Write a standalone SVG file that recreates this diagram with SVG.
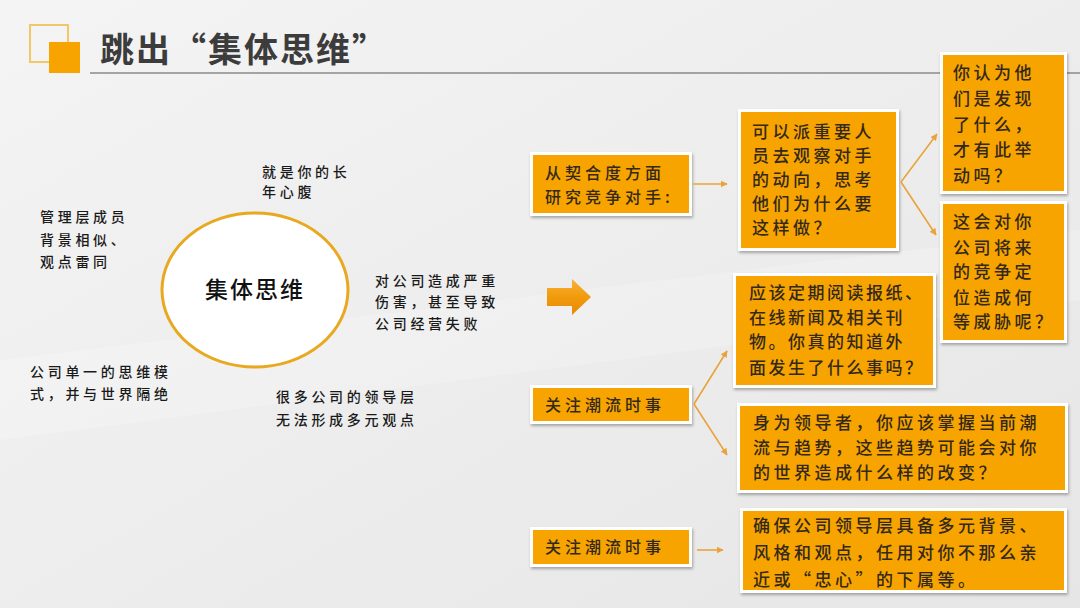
<svg xmlns="http://www.w3.org/2000/svg" width="1080" height="608" viewBox="0 0 1080 608">
<defs>
<linearGradient id="bg" x1="0" y1="0" x2="1" y2="1">
<stop offset="0" stop-color="#f4f4f4"/>
<stop offset="0.5" stop-color="#ededed"/>
<stop offset="1" stop-color="#e6e6e6"/>
</linearGradient>
<linearGradient id="arrowfill" x1="0" y1="0" x2="0" y2="1">
<stop offset="0" stop-color="#f7b23a"/>
<stop offset="0.5" stop-color="#f29a0c"/>
<stop offset="1" stop-color="#e58a05"/>
</linearGradient>
<filter id="sh" x="-10%" y="-10%" width="130%" height="130%">
<feDropShadow dx="1" dy="2" stdDeviation="1.8" flood-color="#000" flood-opacity="0.3"/>
</filter>
<marker id="ah" viewBox="0 0 10 10" refX="9" refY="5" markerWidth="7" markerHeight="7" orient="auto" markerUnits="userSpaceOnUse">
<path d="M0,0 L10,5 L0,10 Z" fill="#eaa33a"/>
</marker>
<style>
.box{fill:#f8a406;stroke:#ffffff;stroke-width:3;filter:url(#sh)}
.bt{font-family:"Noto Sans CJK SC","Noto Sans CJK JP",sans-serif;font-size:17px;font-weight:500;fill:#33291a;letter-spacing:3.5px}
.ft{font-family:"Noto Sans CJK SC","Noto Sans CJK JP",sans-serif;font-size:14px;font-weight:500;fill:#1a1a1a;letter-spacing:3.7px}
.con{stroke:#eaa33a;stroke-width:1.6;fill:none;marker-end:url(#ah)}
</style>
</defs>
<rect x="0" y="0" width="1080" height="608" fill="url(#bg)"/>
<path d="M0,360 L1080,230 L1080,300 L0,440 Z" fill="#ffffff" opacity="0.2"/>

<g id="title">
<rect x="30" y="25" width="38" height="37" fill="none" stroke="#f4c66a" stroke-width="2"/>
<rect x="49" y="42" width="31" height="31" fill="#f8a400"/>
<line x1="90" y1="73" x2="1080" y2="73" stroke="#8a8a8a" stroke-width="1.5"/>
<text x="100" y="62" font-family="Noto Sans CJK SC, sans-serif" font-size="34" font-weight="bold" fill="#3c3c3c" letter-spacing="2">跳出“集体思维”</text>
</g>

<g id="center">
<ellipse cx="255" cy="290" rx="93" ry="77" fill="#ffffff" stroke="#e8a820" stroke-width="3"/>
<text x="255" y="298" text-anchor="middle" font-family="Noto Sans CJK SC, sans-serif" font-size="23" font-weight="500" fill="#111" letter-spacing="2">集体思维</text>
</g>

<g id="free-texts">
<text class="ft" x="262" y="177">就是你的长</text>
<text class="ft" x="262" y="197">年心腹</text>
<text class="ft" x="40" y="222">管理层成员</text>
<text class="ft" x="40" y="245">背景相似、</text>
<text class="ft" x="40" y="267">观点雷同</text>
<text class="ft" x="375" y="286">对公司造成严重</text>
<text class="ft" x="375" y="307">伤害，甚至导致</text>
<text class="ft" x="375" y="329">公司经营失败</text>
<text class="ft" x="30" y="377">公司单一的思维模</text>
<text class="ft" x="30" y="399">式，并与世界隔绝</text>
<text class="ft" x="276" y="402">很多公司的领导层</text>
<text class="ft" x="276" y="425">无法形成多元观点</text>
</g>

<g id="big-arrow">
<path d="M547,288 L572,288 L572,279 L591,297 L572,315 L572,306 L547,306 Z" fill="url(#arrowfill)"/>
</g>

<g id="n1">
<rect class="box" x="531.5" y="153.5" width="159" height="61"/>
<text class="bt" x="545" y="179" style="font-size:16px;letter-spacing:4px">从契合度方面</text>
<text class="bt" x="545" y="203" style="font-size:16px;letter-spacing:4px">研究竞争对手:</text>
</g>

<g id="n2">
<rect class="box" x="739.5" y="110.5" width="158" height="139"/>
<text class="bt" x="752" y="138">可以派重要人</text>
<text class="bt" x="752" y="162">员去观察对手</text>
<text class="bt" x="752" y="186">的动向，思考</text>
<text class="bt" x="752" y="210">他们为什么要</text>
<text class="bt" x="752" y="234">这样做？</text>
</g>

<g id="n3">
<rect class="box" x="941.5" y="53.5" width="124" height="139"/>
<text class="bt" x="953" y="79">你认为他</text>
<text class="bt" x="953" y="105">们是发现</text>
<text class="bt" x="953" y="131">了什么，</text>
<text class="bt" x="953" y="156">才有此举</text>
<text class="bt" x="953" y="182">动吗？</text>
</g>

<g id="n4">
<rect class="box" x="941.5" y="202.5" width="124" height="139"/>
<text class="bt" x="953" y="228">这会对你</text>
<text class="bt" x="953" y="254">公司将来</text>
<text class="bt" x="953" y="278">的竞争定</text>
<text class="bt" x="953" y="304">位造成何</text>
<text class="bt" x="953" y="328">等威胁呢？</text>
</g>

<g id="n5">
<rect class="box" x="734.5" y="274.5" width="200" height="112"/>
<text class="bt" x="749" y="299" style="letter-spacing:2.5px">应该定期阅读报纸、</text>
<text class="bt" x="749" y="324" style="letter-spacing:2.5px">在线新闻及相关刊</text>
<text class="bt" x="749" y="348" style="letter-spacing:2.5px">物。你真的知道外</text>
<text class="bt" x="749" y="374" style="letter-spacing:2.5px">面发生了什么事吗？</text>
</g>

<g id="n6">
<rect class="box" x="531.5" y="386.5" width="159" height="36"/>
<text class="bt" x="545" y="411" style="font-size:16px;letter-spacing:4px">关注潮流时事</text>
</g>

<g id="n7">
<rect class="box" x="738.5" y="404.5" width="328" height="87"/>
<text class="bt" x="753" y="429">身为领导者，你应该掌握当前潮</text>
<text class="bt" x="753" y="454">流与趋势，这些趋势可能会对你</text>
<text class="bt" x="753" y="479">的世界造成什么样的改变？</text>
</g>

<g id="n8">
<rect class="box" x="531.5" y="528.5" width="159" height="37"/>
<text class="bt" x="545" y="553" style="font-size:16px;letter-spacing:4px">关注潮流时事</text>
</g>

<g id="n9">
<rect class="box" x="741.5" y="509.5" width="324" height="82"/>
<text class="bt" x="753" y="532">确保公司领导层具备多元背景、</text>
<text class="bt" x="753" y="559">风格和观点，任用对你不那么亲</text>
<text class="bt" x="753" y="586">近或“忠心”的下属等。</text>
</g>

<g id="connectors">
<line class="con" x1="693" y1="184" x2="727" y2="184"/>
<line class="con" x1="901" y1="182" x2="937" y2="134"/>
<line class="con" x1="901" y1="182" x2="936" y2="235"/>
<line class="con" x1="694" y1="404" x2="727" y2="351"/>
<line class="con" x1="694" y1="404" x2="727" y2="455"/>
<line class="con" x1="697" y1="550" x2="723" y2="550"/>
</g>
</svg>
